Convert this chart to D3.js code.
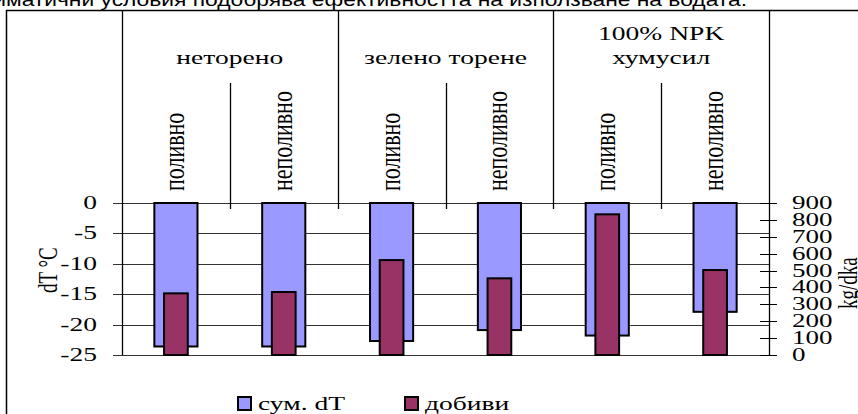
<!DOCTYPE html>
<html>
<head>
<meta charset="utf-8">
<script src="https://cdn.jsdelivr.net/npm/d3@7"></script>
<style>
  html, body { margin: 0; padding: 0; background: #fff; }
  svg { display: block; }
  .serif { font-family: "Liberation Serif", "Times New Roman", serif; fill: #000; }
  .sans { font-family: "Liberation Sans", Arial, sans-serif; fill: #000; }
</style>
</head>
<body>
<svg id="chart" width="858" height="414"></svg>
<script>
// Treatments (groups) and irrigation variants (one bar pair each)
const groups = [["неторено"], ["зелено торене"], ["100% NPK", "хумусил"]];
const variants = ["поливно", "неполивно", "поливно", "неполивно", "поливно", "неполивно"];
// Summed temperature difference, °C
const sumDT = [-23.6, -23.6, -22.7, -20.9, -21.8, -17.9];
// Yields, kg/dka
const yields = [365, 373, 562, 454, 833, 503];
// Axis ticks
const leftTicks = [0, -5, -10, -15, -20, -25];
const rightTicks = [0, 100, 200, 300, 400, 500, 600, 700, 800, 900];
const legendLabels = ["сум. dT", "добиви"];
const colors = ["#9999ff", "#993366"];
const titleText = "агроклиматични условия подобрява ефективността на използване на водата.";

const svg = d3.select("#chart");
const SX = 1.45; // horizontal stretch of the lettering

const plot = { left: 122, right: 769, top: 203, bottom: 355 };
const frameTop = 10;

const x = d3.scaleBand().domain(d3.range(variants.length)).range([plot.left, plot.right]).padding(0);
const yL = d3.scaleLinear().domain([-25, 0]).range([plot.bottom, plot.top]);
const yR = d3.scaleLinear().domain([0, 900]).range([plot.bottom, plot.top]);
const bw = x.bandwidth();

// helper: text drawn with a horizontal stretch
function stext(parent, cls, tx, ty, str, size, anchor, sx, rot) {
  const g = parent.append("g")
    .attr("transform", `translate(${tx},${ty}) scale(${sx},1)` + (rot ? ` rotate(${rot})` : ""));
  return g.append("text").attr("class", cls)
    .attr("font-size", size).attr("text-anchor", anchor).text(str);
}

// caption line at the very top (its upper half falls off the page)
stext(svg, "sans", 747, 6, titleText, 19, "end", 1.2);

// outer frame
svg.append("rect").attr("x", 6.5).attr("y", frameTop + 0.5)
  .attr("width", 900).attr("height", 450)
  .attr("fill", "#fff").attr("stroke", "#000").attr("stroke-width", 1.5);

// horizontal gridlines with outer left ticks
svg.append("g").selectAll("line").data(leftTicks).join("line")
  .attr("x1", plot.left - 9).attr("x2", plot.right)
  .attr("y1", d => Math.round(yL(d)) + 0.5).attr("y2", d => Math.round(yL(d)) + 0.5)
  .attr("stroke", "#333").attr("stroke-width", 1);

// header dividers: group boundaries and variant boundaries
const headerBottom = 209;
[2, 4].forEach(i => {
  svg.append("line").attr("x1", Math.round(x(i)) + 0.5).attr("x2", Math.round(x(i)) + 0.5)
    .attr("y1", frameTop).attr("y2", headerBottom).attr("stroke", "#000").attr("stroke-width", 1.3);
});
[1, 3, 5].forEach(i => {
  svg.append("line").attr("x1", Math.round(x(i)) + 0.5).attr("x2", Math.round(x(i)) + 0.5)
    .attr("y1", 83).attr("y2", headerBottom).attr("stroke", "#000").attr("stroke-width", 1.3);
});

// left and right axis lines (run up through the header)
svg.append("line").attr("x1", plot.left + 0.5).attr("x2", plot.left + 0.5)
  .attr("y1", frameTop).attr("y2", plot.bottom).attr("stroke", "#000").attr("stroke-width", 1.3);
svg.append("line").attr("x1", plot.right + 0.5).attr("x2", plot.right + 0.5)
  .attr("y1", frameTop).attr("y2", plot.bottom).attr("stroke", "#000").attr("stroke-width", 1.3);

// right axis ticks crossing the axis line
svg.append("g").selectAll("line").data(rightTicks).join("line")
  .attr("x1", plot.right - 9).attr("x2", plot.right + 8)
  .attr("y1", d => Math.round(yR(d)) + 0.5).attr("y2", d => Math.round(yR(d)) + 0.5)
  .attr("stroke", "#000").attr("stroke-width", 1);

// dT bars (hanging from zero)
svg.append("g").selectAll("rect").data(sumDT).join("rect")
  .attr("x", (d, i) => x(i) + bw / 2 - bw * 0.2)
  .attr("width", bw * 0.4)
  .attr("y", yL(0))
  .attr("height", d => yL(d) - yL(0))
  .attr("fill", colors[0]).attr("stroke", "#000").attr("stroke-width", 2);

// yield bars (standing on the bottom, right axis)
svg.append("g").selectAll("rect").data(yields).join("rect")
  .attr("x", (d, i) => x(i) + bw / 2 - bw * 0.11)
  .attr("width", bw * 0.22)
  .attr("y", d => yR(d))
  .attr("height", d => yR(0) - yR(d))
  .attr("fill", colors[1]).attr("stroke", "#000").attr("stroke-width", 2);

// left tick labels
leftTicks.forEach(t => stext(svg, "serif", 97, yL(t) + 6, String(t), 19, "end", SX));
// right tick labels (tightly stacked)
rightTicks.forEach(t => stext(svg, "serif", 792, yR(t) + 6, String(t), 18, "start", 1.5));

// axis titles
stext(svg, "serif", 57, 293, "dT °C", 19, "start", SX, -90);
stext(svg, "serif", 857, 309, "kg/dka", 19, "start", SX, -90);

// group headings
groups.forEach((lines, gi) => {
  const cx = (x(gi * 2) + x(gi * 2 + 1) + bw) / 2;
  const base = lines.length === 1 ? [64] : [40, 64];
  lines.forEach((ln, li) => stext(svg, "serif", cx, base[li], ln, 19, "middle", SX));
});

// variant labels, vertical
variants.forEach((v, i) => stext(svg, "serif", x(i) + bw / 2 + 8, 191, v, 22, "start", 1.3, -90));

// legend
const legendX = [238, 405];
legendLabels.forEach((lab, i) => {
  svg.append("rect").attr("x", legendX[i]).attr("y", 397).attr("width", 13).attr("height", 13)
    .attr("fill", colors[i]).attr("stroke", "#000").attr("stroke-width", 2);
  stext(svg, "serif", legendX[i] + 20, 410, lab, 19, "start", SX);
});
</script>
</body>
</html>
